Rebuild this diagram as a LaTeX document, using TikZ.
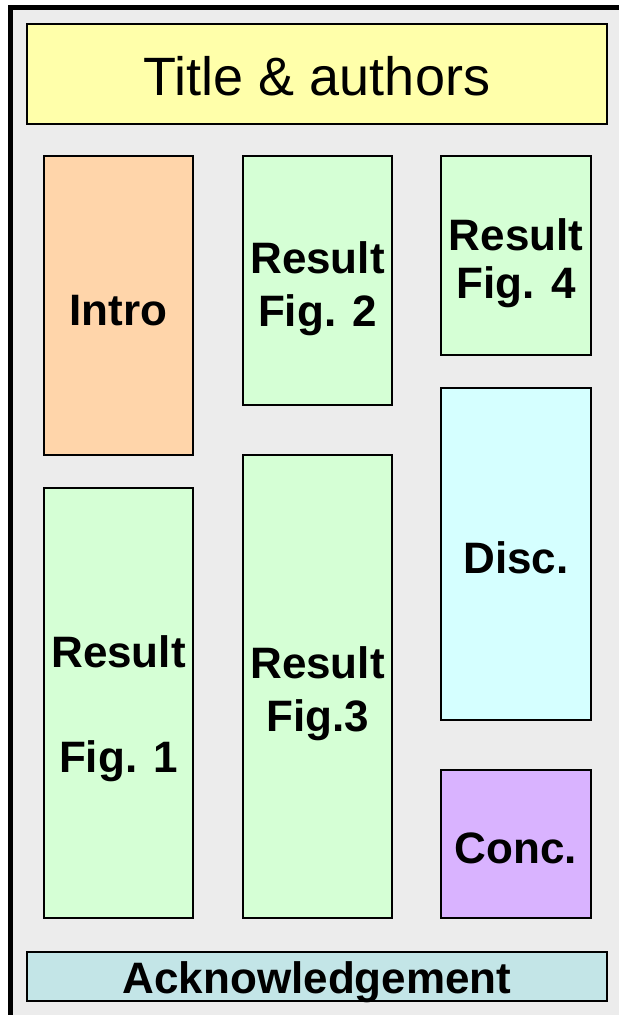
\documentclass[tikz,border=0pt]{standalone}
\usepackage{fontspec}
\setmainfont{Liberation Sans}
\definecolor{bgc}{HTML}{ECECEC}
\definecolor{titc}{HTML}{FFFFAA}
\definecolor{introc}{HTML}{FFD5AA}
\definecolor{resc}{HTML}{D5FFD5}
\definecolor{discc}{HTML}{D5FFFF}
\definecolor{concc}{HTML}{D9B3FF}
\definecolor{ackc}{HTML}{C3E5E7}
\tikzset{
  panel/.style={draw=black, line width=1.6pt},
  btext/.style={font=\fontsize{44}{52}\selectfont\bfseries, align=center, inner sep=0pt},
}
\begin{document}
\begin{tikzpicture}[x=1pt,y=-1pt]
\useasboundingbox (0,0) rectangle (619,1015);
\fill[white] (0,0) rectangle (619,1015);
\fill[bgc] (10.5,7.5) rectangle (619,1015);
\draw[line width=5.5pt] (10.5,1015) -- (10.5,7.5) -- (619,7.5);
% boxes
\draw[panel, fill=titc] (27,24) rectangle (607,124);
\draw[panel, fill=introc] (44,156) rectangle (193,455);
\draw[panel, fill=resc] (243,156) rectangle (392,405);
\draw[panel, fill=resc] (441,156) rectangle (591,355);
\draw[panel, fill=resc] (44,488) rectangle (193,918);
\draw[panel, fill=resc] (243,455) rectangle (392,918);
\draw[panel, fill=discc] (441,388) rectangle (591,720);
\draw[panel, fill=concc] (441,770) rectangle (591,918);
\draw[panel, fill=ackc] (27,952) rectangle (607,1001);
% texts
\node[inner sep=0pt, anchor=base, font=\fontsize{54}{60}\selectfont] (title) at (317,95) {Title \& authors};
\node[btext, anchor=base] (intro) at (118.5,325) {Intro};
\node[btext, anchor=base] (r2a) at (317.5,273) {Result};
\node[btext, anchor=base] (r2b) at (317.5,326) {Fig. 2};
\node[btext, anchor=base] (r4a) at (516,250) {Result};
\node[btext, anchor=base] (r4b) at (516,298) {Fig. 4};
\node[btext, anchor=base] (r1a) at (118.5,667) {Result};
\node[btext, anchor=base] (r1b) at (118.5,772) {Fig. 1};
\node[btext, anchor=base] (r3a) at (317.5,678) {Result};
\node[btext, anchor=base] (r3b) at (317.5,731) {Fig.3};
\node[btext, anchor=base] (disc) at (516,573) {Disc.};
\node[btext, anchor=base] (conc) at (516,863) {Conc.};
\node[btext, anchor=base] (ack) at (317,993) {Acknowledgement};
\end{tikzpicture}
\end{document}
